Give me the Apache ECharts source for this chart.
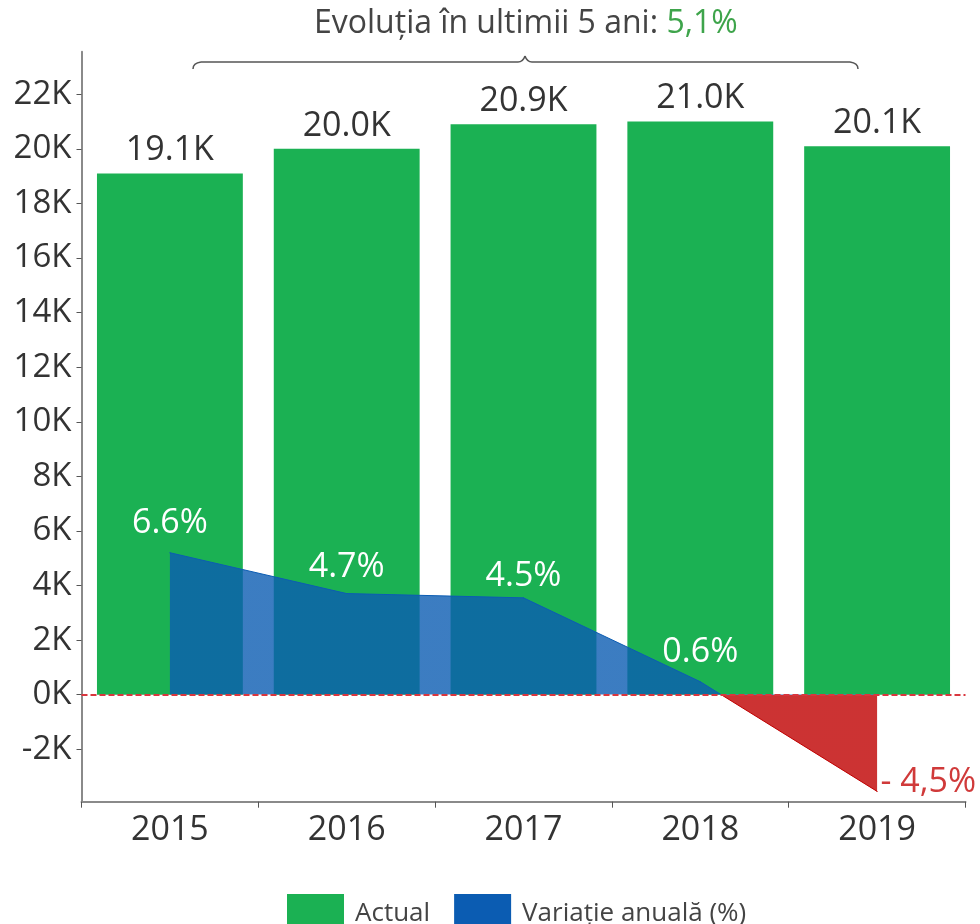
<!DOCTYPE html>
<html>
<head>
<meta charset="utf-8">
<script src="https://cdn.jsdelivr.net/npm/echarts@6/dist/echarts.min.js"></script>
<style>
  html, body { margin: 0; padding: 0; background: #fff; }
  #chart { width: 980px; height: 924px; }
</style>
</head>
<body>
<div id="chart"></div>
<script>
// ---- data ----
const categories = ['2015', '2016', '2017', '2018', '2019'];
const actualValues = [19100, 20000, 20900, 21000, 20100];
const variationValues = [6.6, 4.7, 4.5, 0.6, -4.5];
const yTickValues = [-2000, 0, 2000, 4000, 6000, 8000, 10000, 12000, 14000, 16000, 18000, 20000, 22000];
const titleText = 'Evoluția în ultimii 5 ani: ';
const titleValue = '5,1%';
const seriesNames = ['Actual', 'Variație anuală (%)'];

const FONT = '"Open Sans", "DejaVu Sans", sans-serif';
const GREEN = '#1bb153';
const BLUE = '#0b5cb2';
const RED = '#bf0000';
const labelDistances = [12, 9, 4, 12];

const chart = echarts.init(document.getElementById('chart'), null, { renderer: 'canvas' });

const braceStyle = { fill: null, stroke: '#555555', lineWidth: 1.5 };

const option = {
  animation: false,
  textStyle: { fontFamily: FONT },
  title: {
    text: '{a|' + titleText + '}{b|' + titleValue + '}',
    left: 314,
    top: 8,
    padding: 0,
    textStyle: {
      fontWeight: 'normal',
      rich: {
        a: { fontFamily: FONT, fontSize: 32, fontWeight: 'normal', color: '#444444' },
        b: { fontFamily: FONT, fontSize: 32, fontWeight: 'normal', color: '#3ea44b' }
      }
    }
  },
  grid: { left: 81.5, right: 14.5, top: 51.7, bottom: 122.3, containLabel: false },
  legend: {
    left: 287,
    top: 894,
    padding: 0,
    itemWidth: 57,
    itemHeight: 40,
    itemGap: 24,
    icon: 'rect',
    textStyle: { fontFamily: FONT, fontSize: 26, color: '#444444', padding: [0, 0, 0, 6] },
    data: [
      { name: seriesNames[0], itemStyle: { color: GREEN } },
      { name: seriesNames[1], itemStyle: { color: BLUE, opacity: 1 } }
    ]
  },
  xAxis: {
    type: 'category',
    data: categories,
    boundaryGap: true,
    axisLine: { onZero: false, lineStyle: { color: '#8a8a8a', width: 2 } },
    axisTick: { show: true, alignWithLabel: false, length: 6, lineStyle: { color: '#555', width: 1 } },
    axisLabel: { fontFamily: FONT, fontSize: 34, color: '#333333', margin: 12 }
  },
  yAxis: [
    {
      type: 'value',
      min: -3920,
      max: 23560,
      splitLine: { show: false },
      axisLine: { show: true, onZero: false, lineStyle: { color: '#8a8a8a', width: 2 } },
      axisTick: { show: true, length: 5, lineStyle: { color: '#555', width: 1 }, customValues: yTickValues },
      axisLabel: {
        fontFamily: FONT, fontSize: 33, color: '#333333', margin: 10,
        customValues: yTickValues,
        formatter: v => (v / 1000) + 'K'
      }
    },
    {
      type: 'value',
      min: -4.98,
      max: 29.9,
      show: false,
      splitLine: { show: false }
    }
  ],
  visualMap: {
    show: false,
    type: 'piecewise',
    seriesIndex: 1,
    dimension: 1,
    pieces: [
      { gte: -1000, lt: 0, color: RED },
      { gte: 0, lte: 1000, color: BLUE }
    ]
  },
  series: [
    {
      name: seriesNames[0],
      type: 'bar',
      data: actualValues,
      barWidth: '82.5%',
      itemStyle: { color: GREEN },
      label: {
        show: true,
        position: 'top',
        distance: 6,
        fontFamily: FONT,
        fontSize: 34,
        color: '#333333',
        formatter: p => (p.value / 1000).toFixed(1) + 'K'
      },
      z: 2
    },
    {
      name: seriesNames[1],
      type: 'line',
      yAxisIndex: 1,
      data: variationValues.map((v, i) => ({
        value: v,
        label: v < 0
          ? { position: 'right', color: '#d03a3a', distance: 3, offset: [0, -9] }
          : { position: 'top', color: '#ffffff', distance: labelDistances[i] }
      })),
      showSymbol: true,
      symbol: 'circle',
      symbolSize: 1,
      itemStyle: { borderWidth: 0 },
      lineStyle: { width: 1 },
      areaStyle: { opacity: 0.8 },
      label: {
        show: true,
        fontFamily: FONT,
        fontSize: 34,
        formatter: p => p.value < 0
          ? '- ' + Math.abs(p.value).toFixed(1).replace('.', ',') + '%'
          : p.value.toFixed(1) + '%'
      },
      markLine: {
        silent: true,
        symbol: 'none',
        label: { show: false },
        lineStyle: { color: '#d9363e', type: [6, 3], width: 2 },
        data: [{ yAxis: 0 }]
      },
      z: 3
    }
  ],
  graphic: [
    { type: 'bezierCurve', shape: { x1: 193, y1: 69, x2: 201, y2: 62, cpx1: 193, cpy1: 63 }, style: braceStyle, z: 10 },
    { type: 'line', shape: { x1: 201, y1: 62, x2: 518, y2: 62 }, style: braceStyle, z: 10 },
    { type: 'bezierCurve', shape: { x1: 518, y1: 62, x2: 525, y2: 56, cpx1: 523, cpy1: 62 }, style: braceStyle, z: 10 },
    { type: 'bezierCurve', shape: { x1: 525, y1: 56, x2: 532, y2: 62, cpx1: 527, cpy1: 62 }, style: braceStyle, z: 10 },
    { type: 'line', shape: { x1: 532, y1: 62, x2: 850, y2: 62 }, style: braceStyle, z: 10 },
    { type: 'bezierCurve', shape: { x1: 850, y1: 62, x2: 858, y2: 69, cpx1: 858, cpy1: 63 }, style: braceStyle, z: 10 }
  ]
};

chart.setOption(option);
</script>
</body>
</html>
